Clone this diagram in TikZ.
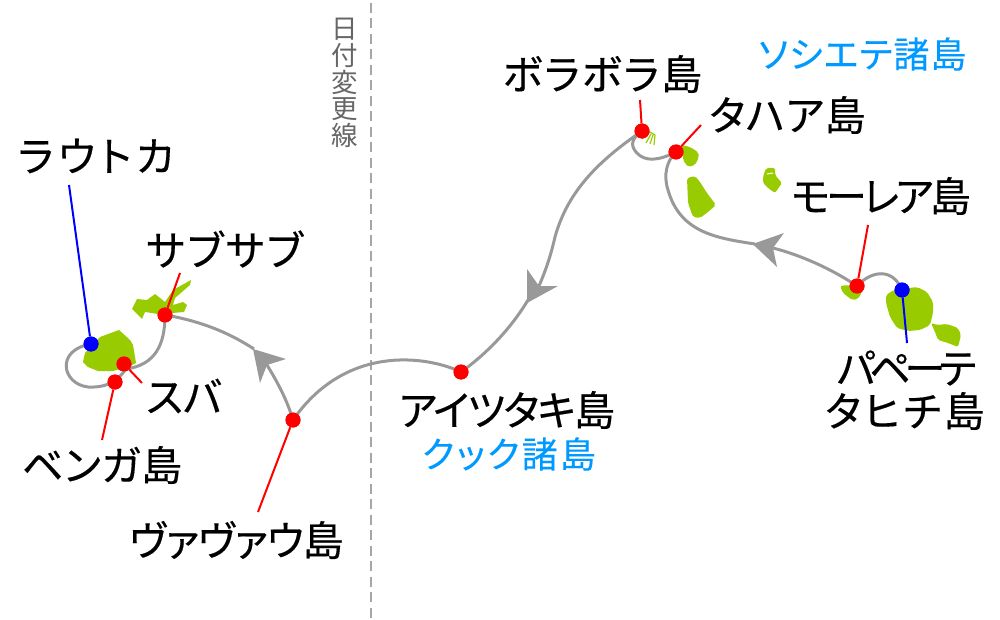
\documentclass[tikz,border=0pt]{standalone}
\usepackage{fontspec}
\setmainfont{Noto Sans CJK JP}[RawFeature=+palt,FakeBold=0.35]
\newfontfamily\plainjp{Noto Sans CJK JP}
\newfontfamily\bluejp{Noto Sans CJK JP}[RawFeature=+palt,FakeBold=0.15]
\newcommand\ltext[2]{{\addfontfeatures{LetterSpace=#1}#2}}
\tikzset{x=1pt,y=-1pt,
 lab/.style={font=\fontsize{41}{43}\selectfont,text=black,inner sep=0pt,align=center},
 grp/.style={font=\bluejp\fontsize{36}{38}\selectfont,text=blue2,inner sep=0pt},
 rdot/.style={circle,fill=red,minimum size=15pt,inner sep=0pt},
 bdot/.style={circle,fill=blue,minimum size=15pt,inner sep=0pt},
 route/.style={draw=rgray,line width=3pt},
 head/.style={fill=rgray},
 isl/.style={fill=igreen},
 soft/.style={fill=igreen,rounded corners=2pt},
 streak/.style={draw=igreen,line width=1.2pt},
 rpin/.style={draw=red,line width=2pt},
 bpin/.style={draw=blue,line width=2pt}}
\definecolor{rgray}{HTML}{999999}
\definecolor{igreen}{HTML}{99CC00}
\definecolor{blue2}{HTML}{0099FF}
\begin{document}
\begin{tikzpicture}
\useasboundingbox (0,0) rectangle (1000,620);
% date line
\draw[draw=black!35,line width=2.2pt,dash pattern=on 10pt off 5.5pt] (371,3) -- (371,620);
\node[inner sep=0pt,text=black!60,font=\plainjp\fontsize{26.5}{26.8}\selectfont,align=center] (dl) at (345,83) {日\\付\\変\\更\\線};
% islands
\path[isl] (132,309) -- (137,299) -- (147,300) -- (155,294) -- (165,302) -- (173,290) -- (191,280) -- (190,285) -- (175,298) -- (173,305) -- (183,302) -- (187,305) -- (184,312) -- (172,313) -- (163,315) -- (152,313) -- (145,312) -- (142,319) -- cycle;
\path[isl] (83,362) -- (85,353) -- (100,337) -- (119,330) -- (130,340) -- (133,345) -- (136,363) -- (128,367) -- (113,371) -- (98,371) -- (88,367) -- cycle;
\draw[streak] (642,139) -- (650,132) (646,143) -- (651,134) (650,144) -- (653,135) (654,145) -- (655,135) (650,132) -- (655,135);
\path[soft] (682,145) -- (690,147) -- (698,152) -- (699,157) -- (695,165) -- (688,167) -- (683,160) -- cycle;
\path[soft] (687,178) -- (695,176) -- (700,182) -- (707,193) -- (716,205) -- (708,212) -- (700,218) -- (693,217) -- (688,203) -- cycle;
\path[soft] (763,177) -- (766,168) -- (775,168) -- (775,175) -- (782,183) -- (775,193) -- (768,188) -- (763,183) -- cycle;
\draw[white,line width=1pt] (767,174) -- (773,173);
\path[soft] (840,286) -- (848,285) -- (863,290) -- (858,299) -- (852,300) -- (843,293) -- cycle;
\path[soft] (886,295) -- (894,290) -- (917,287) -- (927,292) -- (933,302) -- (933,313) -- (930,325) -- (920,330) -- (908,331) -- (897,328) -- (890,317) -- (886,303) -- cycle;
\path[soft] (931,323) -- (937,325) -- (947,324) -- (958,328) -- (961,335) -- (958,347) -- (948,343) -- (938,340) -- (935,332) -- cycle;
% named points
\node[bdot] (lau) at (91,344) {};
\node[rdot] (suv) at (124,364) {};
\node[rdot] (ben) at (115,382) {};
\node[rdot] (sav) at (165,315) {};
\node[rdot] (vav) at (293,420) {};
\node[rdot] (ait) at (461,372) {};
\node[rdot] (bor) at (642,131) {};
\node[rdot] (tah) at (676,152) {};
\node[rdot] (moo) at (857,286) {};
\node[bdot] (pap) at (902,290) {};
% pins' free ends
\coordinate (plau) at (69,185);
\coordinate (psav) at (180,273);
\coordinate (psuv) at (142,383);
\coordinate (pben) at (102,440);
\coordinate (pvav) at (258,512);
\coordinate (pbor) at (640,100);
\coordinate (ptah) at (701,125);
\coordinate (pmoo) at (868,225);
\coordinate (ppap) at (907,343);
% route
\draw[route] (pap.center) .. controls (893,268) and (872,270) .. (moo.center);
\draw[route] (moo.center) .. controls (830,268) and (800,255) .. (773,248);
\draw[route] (755,244) .. controls (715,238) and (680,232) .. (668,190) .. controls (663,175) and (667,160) .. (tah.center);
\draw[route] (tah.center) .. controls (660,160) and (645,163) .. (636,152) .. controls (630,145) and (632,138) .. (bor.center);
\draw[route] (bor.center) .. controls (600,160) and (568,190) .. (555,237) .. controls (552,250) and (548,265) .. (539,286);
\draw[route] (528,300) .. controls (510,330) and (485,355) .. (ait.center);
\draw[route] (ait.center) .. controls (425,355) and (345,345) .. (vav.center);
\draw[route] (vav.center) .. controls (287,400) and (278,383) .. (267,365);
\draw[route] (254,349) .. controls (225,330) and (195,320) .. (sav.center);
\draw[route] (sav.center) .. controls (165,345) and (155,365) .. (126,369) .. controls (118,380) and (108,388) .. (88,387) .. controls (62,384) and (55,350) .. (lau.center);
% arrowheads
\path[head] (752.7,244) -- (784,233) -- (773,248) -- (777,267) -- cycle;
\path[head] (253,349) -- (286,359) -- (267,365) -- (260,383) -- cycle;
\path[head] (527,303) -- (527,269) -- (539,286) -- (558,286) -- cycle;
% pins
\draw[bpin] (lau) -- (plau);
\draw[rpin] (sav) -- (psav);
\draw[rpin] (suv) -- (psuv);
\draw[rpin] (ben) -- (pben);
\draw[rpin] (vav) -- (pvav);
\draw[rpin] (bor) -- (pbor);
\draw[rpin] (tah) -- (ptah);
\draw[rpin] (moo) -- (pmoo);
\draw[bpin] (pap) -- (ppap);
\foreach \n in {suv,ben,sav,vav,ait,bor,tah,moo} \node[rdot] at (\n) {};
\foreach \n in {lau,pap} \node[bdot] at (\n) {};
% labels
\node[lab] (t1) at (96,156) {\ltext{11.4}{ラウトカ}};
\node[lab] (t2) at (224.5,249) {\ltext{6}{サブサブ}};
\node[lab] (t3) at (184,396) {スバ};
\node[lab] (t4) at (102,465) {\ltext{1.6}{ベンガ島}};
\node[lab] (t5) at (236.5,540) {\ltext{-2.4}{ヴァヴァウ島}};
\node[lab] (t6) at (507,410) {\ltext{-4.4}{アイツタキ島}};
\node[grp] (g1) at (509,454) {\ltext{6.2}{クック諸島}};
\node[lab] (t7) at (602.5,74) {\ltext{5.2}{ボラボラ島}};
\node[lab] (t8) at (787.5,115) {\ltext{1.6}{タハア島}};
\node[grp] (g2) at (862.5,54) {\ltext{3.3}{ソシエテ諸島}};
\node[lab] (t9) at (881,196) {\ltext{-9}{モーレア島}};
\node[lab] (t10) at (906.5,368) {\ltext{-15}{パペーテ}};
\node[lab] (t11) at (905,411) {\ltext{6.9}{タヒチ島}};
\end{tikzpicture}
\end{document}
